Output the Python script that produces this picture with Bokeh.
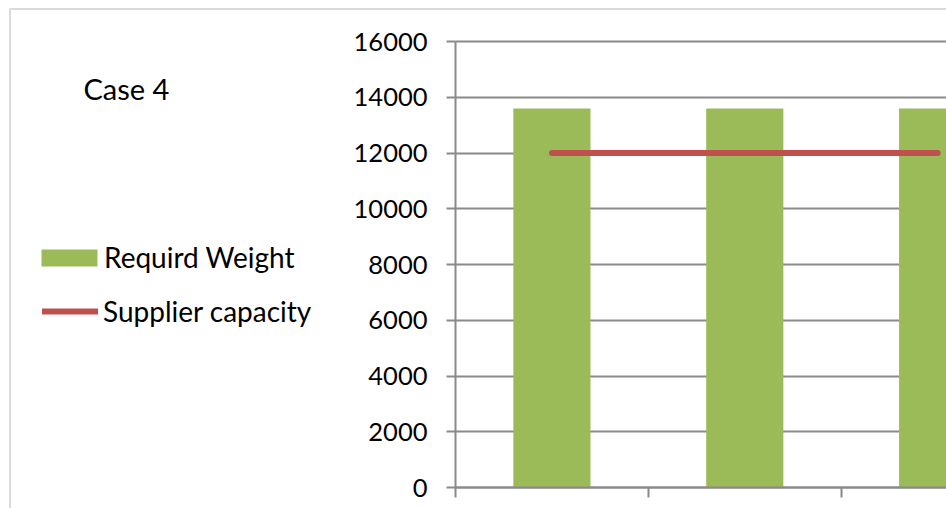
from bokeh.plotting import figure
from bokeh.models import (Range1d, FixedTicker, Legend, LegendItem, Label,
                          BoxAnnotation, ColumnDataSource)
from bokeh.embed import file_html
from bokeh.resources import INLINE

# ---- data ----
categories = ["1", "2", "3"]
required_weight = [13600, 13600, 13600]
supplier_capacity = [12000, 12000, 12000]
y_ticks = [0, 2000, 4000, 6000, 8000, 10000, 12000, 14000, 16000]
x_ticks = [0, 1, 2, 3]
chart_title = "Case 4"
series_names = ["Requird Weight", "Supplier capacity"]

# ---- style / layout constants ----
FONT = "Lato"
GREEN = "#9BBB59"
RED = "#C0504D"
GRID = "#8a8a8a"
BORDER = "#868686"
W, H = 946, 508
AXIS_X_PX = 455      # page x of the value axis
CAT_PX = 192.85      # width of one category in pixels
ZERO_Y_PX = 487      # page y of value 0
TOP_Y_PX = 41        # page y of the top tick

x_start = -AXIS_X_PX / CAT_PX
x_end = (W - AXIS_X_PX) / CAT_PX
per_px = y_ticks[-1] / (ZERO_Y_PX - TOP_Y_PX)
y_start = -(H - ZERO_Y_PX) * per_px
y_end = y_ticks[-1] + TOP_Y_PX * per_px

xs = [i + 0.5 for i in range(len(categories))]
source = ColumnDataSource(dict(x=xs, weight=required_weight, cap=supplier_capacity))

p = figure(width=W, height=H, output_backend="svg", toolbar_location=None,
           title=None, x_range=Range1d(x_start, x_end),
           y_range=Range1d(y_start, y_end), min_border=0)
p.min_border_left = 0
p.min_border_right = 0
p.min_border_top = 0
p.min_border_bottom = 0
p.outline_line_color = None
p.background_fill_color = "white"
p.border_fill_color = "white"

bars = p.vbar(x="x", top="weight", width=0.4, source=source,
              fill_color=GREEN, line_color=None)
cap_line = p.line(x="x", y="cap", source=source, line_color=RED,
                  line_width=6, line_cap="round")

# value axis
p.yaxis.fixed_location = 0
p.yaxis.ticker = FixedTicker(ticks=y_ticks)
p.yaxis.bounds = (y_ticks[0], y_ticks[-1])
p.yaxis.axis_line_color = GRID
p.yaxis.axis_line_width = 2
p.yaxis.major_tick_line_color = GRID
p.yaxis.major_tick_line_width = 2
p.yaxis.major_tick_out = 9
p.yaxis.major_tick_in = 0
p.yaxis.minor_tick_line_color = None
p.yaxis.major_label_text_font = FONT
p.yaxis.major_label_text_font_size = "25.5px"
p.yaxis.major_label_text_color = "black"
p.yaxis.major_label_standoff = 19

# category axis (no labels)
p.xaxis.fixed_location = 0
p.xaxis.ticker = FixedTicker(ticks=x_ticks)
p.xaxis.bounds = (x_ticks[0], x_ticks[-1])
p.xaxis.axis_line_color = GRID
p.xaxis.axis_line_width = 2
p.xaxis.major_tick_line_color = GRID
p.xaxis.major_tick_line_width = 2
p.xaxis.major_tick_out = 10
p.xaxis.major_tick_in = 0
p.xaxis.minor_tick_line_color = None
p.xaxis.major_label_text_color = None
p.xaxis.major_label_standoff = 0

p.xgrid.grid_line_color = None
p.ygrid.ticker = FixedTicker(ticks=y_ticks)
p.ygrid.cross_bounds = (x_ticks[0], x_ticks[-1])
p.ygrid.grid_line_color = GRID
p.ygrid.grid_line_width = 2

# legends
leg_a = Legend(items=[LegendItem(label=series_names[0], renderers=[bars])],
               location=(34, 234), padding=0, margin=0,
               glyph_width=70, glyph_height=21, label_height=34,
               label_standoff=0, label_text_font=FONT,
               label_text_font_size="28px", label_text_color="black",
               border_line_color=None, background_fill_color=None)
leg_b = Legend(items=[LegendItem(label=series_names[1], renderers=[cap_line])],
               location=(42, 180), padding=0, margin=0,
               glyph_width=56, glyph_height=34, label_height=34,
               label_standoff=5, label_text_font=FONT,
               label_text_font_size="28px", label_text_color="black",
               border_line_color=None, background_fill_color=None)
p.add_layout(leg_a, "center")
p.add_layout(leg_b, "center")

# chart title
p.add_layout(Label(x=83, y=H - 88, x_units="screen", y_units="screen",
                   text=chart_title, text_font=FONT, text_font_size="29px",
                   text_baseline="alphabetic", text_color="black"))

# outer chart-area border (top and left edges visible)
p.add_layout(BoxAnnotation(left=9.5, right=3000, top=H - 8.5, bottom=-3000,
                           left_units="screen", right_units="screen",
                           top_units="screen", bottom_units="screen",
                           fill_color=None, line_color=BORDER, line_width=2))

open("out.html", "w").write(file_html(p, INLINE))
